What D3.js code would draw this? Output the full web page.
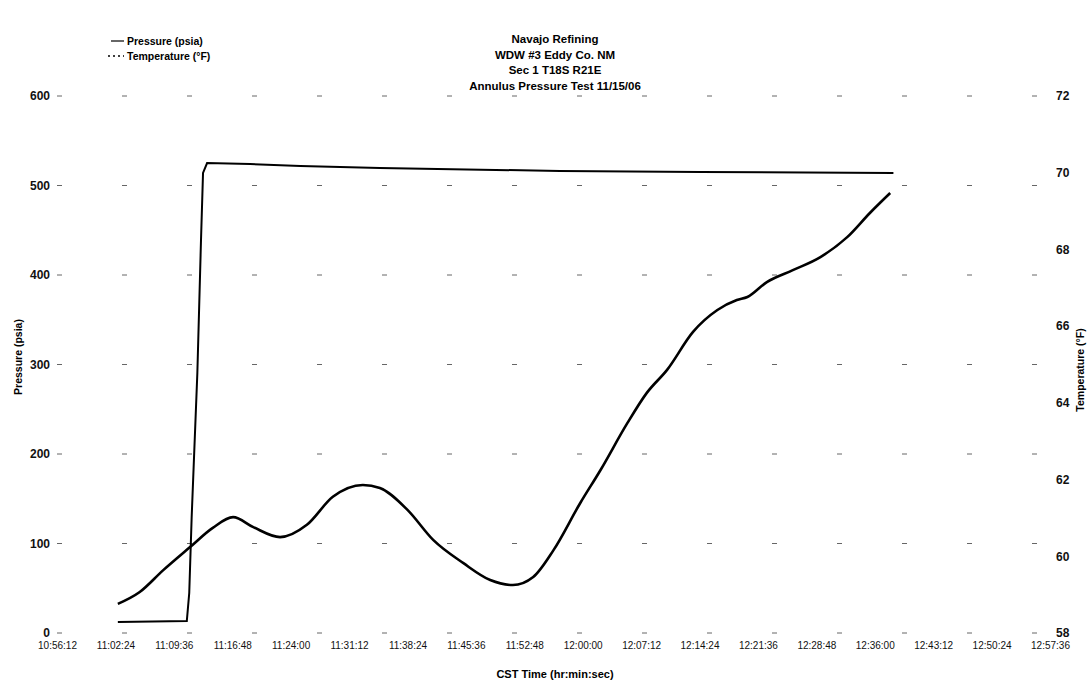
<!DOCTYPE html>
<html><head><meta charset="utf-8">
<script src="https://cdn.jsdelivr.net/npm/d3@7"></script>
<style>body{margin:0;background:#fff}svg{display:block;font-family:"Liberation Sans",Arial,sans-serif}</style>
</head><body><svg id="c" width="1091" height="686"></svg>
<script>
// ---- data ----
const titleLines = ["Navajo Refining", "WDW #3 Eddy Co. NM", "Sec 1 T18S R21E", "Annulus Pressure Test 11/15/06"];
const xTickLabels = ["10:56:12","11:02:24","11:09:36","11:16:48","11:24:00","11:31:12","11:38:24","11:45:36","11:52:48",
  "12:00:00","12:07:12","12:14:24","12:21:36","12:28:48","12:36:00","12:43:12","12:50:24","12:57:36"];
const xTickMinutes = [0,7.2,14.4,21.6,28.8,36,43.2,50.4,57.6,64.8,72,79.2,86.4,93.6,100.8,108,115.2,122.4];
const pressureTicks = [0,100,200,300,400,500,600];
const tempTicks = [58,60,62,64,66,68,70,72];
// elapsed minutes from first axis tick
const pressureMinutes = [7.5, 16.0, 16.3, 16.6, 17.3, 17.75, 18.0, 18.5, 23.8, 30.0, 39.8, 62.0, 79.3, 103.1];
const pressureValues  = [12.3, 13.4, 44.7, 129.6, 290.5, 439.1, 514.0, 525.1, 524.0, 521.8, 519.6, 516.2, 515.0, 514.0];
const tempMinutes = [7.5, 10.2, 13.1, 16.4, 19.2, 21.7, 24.2, 27.5, 30.8, 34.0, 37.7, 39.8, 43.2, 46.4, 50.1, 53.4, 56.2,
  58.7, 61.2, 64.5, 67.0, 70.3, 72.7, 75.2, 78.4, 81.4, 83.8, 85.1, 87.5, 90.7, 94.1, 97.4, 100.2, 102.7];
const tempValues = [58.76, 59.07, 59.64, 60.24, 60.74, 61.02, 60.76, 60.50, 60.82, 61.55, 61.86, 61.78, 61.21, 60.42, 59.82,
  59.38, 59.25, 59.46, 60.16, 61.39, 62.25, 63.47, 64.26, 64.86, 65.85, 66.42, 66.68, 66.76, 67.15, 67.46, 67.80, 68.32, 68.95, 69.47];

// ---- layout ----
const svg = d3.select("#c");
const L = 57, R = 1050, T = 96, B = 633;
const x = d3.scaleLinear().domain([0, 122.4]).range([L, R]);
const yP = d3.scaleLinear().domain([0, 600]).range([B, T]);
const yT = d3.scaleLinear().domain([58, 72]).range([B, T]);

// gridlines (sparse dotted, as in the scanned original)
svg.append("g").selectAll("line").data(pressureTicks).join("line")
  .attr("x1", L).attr("x2", R).attr("y1", d => yP(d)).attr("y2", d => yP(d))
  .attr("stroke", "#666").attr("stroke-width", 1).attr("stroke-dasharray", "5,60");

// left axis
const gl = svg.append("g").attr("transform", `translate(${L},0)`)
  .call(d3.axisLeft(yP).tickValues(pressureTicks).tickSize(0).tickPadding(7));
gl.select(".domain").remove();
gl.selectAll("text").attr("font-size", 12).attr("font-weight", "bold").attr("fill", "#111");

// right axis
const gr = svg.append("g").attr("transform", `translate(${R},0)`)
  .call(d3.axisRight(yT).tickValues(tempTicks).tickSize(0).tickPadding(6));
gr.select(".domain").remove();
gr.selectAll("text").attr("font-size", 12).attr("font-weight", "bold").attr("fill", "#111");

// bottom axis
const gb = svg.append("g").attr("transform", `translate(0,${B})`)
  .call(d3.axisBottom(x).tickValues(xTickMinutes).tickSize(0).tickPadding(9)
    .tickFormat((d, i) => xTickLabels[i]));
gb.select(".domain").remove();
gb.selectAll("text").attr("font-size", 10).attr("fill", "#111");

// lines
const pLine = d3.line().x((d, i) => x(pressureMinutes[i])).y(d => yP(d));
svg.append("path").datum(pressureValues).attr("d", pLine)
  .attr("fill", "none").attr("stroke", "#000").attr("stroke-width", 2);
const tLine = d3.line().x((d, i) => x(tempMinutes[i])).y(d => yT(d)).curve(d3.curveMonotoneX);
svg.append("path").datum(tempValues).attr("d", tLine)
  .attr("fill", "none").attr("stroke", "#000").attr("stroke-width", 2.6);

// title
svg.append("g").selectAll("text").data(titleLines).join("text")
  .attr("x", 555).attr("y", (d, i) => 43 + i * 15.7).attr("text-anchor", "middle")
  .attr("font-size", 11.5).attr("font-weight", "bold").text(d => d);

// legend
const lg = svg.append("g");
lg.append("line").attr("x1", 111).attr("x2", 124).attr("y1", 41).attr("y2", 41).attr("stroke", "#000").attr("stroke-width", 1.2);
lg.append("text").attr("x", 127).attr("y", 45).attr("font-size", 10.5).attr("font-weight", "bold").text("Pressure (psia)");
lg.append("line").attr("x1", 108).attr("x2", 124).attr("y1", 56).attr("y2", 56).attr("stroke", "#000").attr("stroke-width", 1.5).attr("stroke-dasharray", "2,3");
lg.append("text").attr("x", 127).attr("y", 60).attr("font-size", 10.5).attr("font-weight", "bold").text("Temperature (°F)");

// axis titles
svg.append("text").attr("transform", "translate(22,357) rotate(-90)").attr("text-anchor", "middle")
  .attr("font-size", 10.5).attr("font-weight", "bold").text("Pressure (psia)");
svg.append("text").attr("transform", "translate(1084,370) rotate(-90)").attr("text-anchor", "middle")
  .attr("font-size", 10.5).attr("font-weight", "bold").text("Temperature (°F)");
svg.append("text").attr("x", 555).attr("y", 678).attr("text-anchor", "middle")
  .attr("font-size", 11).attr("font-weight", "bold").text("CST Time (hr:min:sec)");
</script></body></html>
